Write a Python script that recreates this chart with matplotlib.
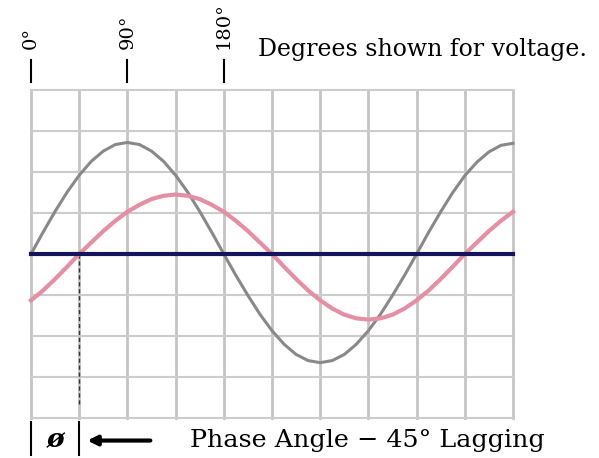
import matplotlib.pyplot as plt

# values, in grid units (one grid row = 1)
degrees = [0, 11.25, 22.5, 33.75, 45, 56.25, 67.5, 78.75, 90,
           101.25, 112.5, 123.75, 135, 146.25, 157.5, 168.75, 180,
           191.25, 202.5, 213.75, 225, 236.25, 247.5, 258.75, 270,
           281.25, 292.5, 303.75, 315, 326.25, 337.5, 348.75, 360,
           371.25, 382.5, 393.75, 405, 416.25, 427.5, 438.75, 450]
voltage = [0, 0.53, 1.04, 1.51, 1.92, 2.26, 2.51, 2.67, 2.72,
           2.67, 2.51, 2.26, 1.92, 1.51, 1.04, 0.53, 0,
           -0.52, -1.01, -1.47, -1.87, -2.20, -2.45, -2.60, -2.65,
           -2.60, -2.45, -2.20, -1.87, -1.47, -1.01, -0.52, 0,
           0.53, 1.03, 1.50, 1.91, 2.24, 2.49, 2.65, 2.70]
current = [-1.13, -0.89, -0.61, -0.31, 0, 0.28, 0.56, 0.81, 1.03,
           1.20, 1.34, 1.42, 1.45, 1.42, 1.34, 1.20, 1.03,
           0.81, 0.56, 0.28, 0, -0.31, -0.61, -0.89, -1.13,
           -1.33, -1.48, -1.57, -1.60, -1.57, -1.48, -1.33, -1.13,
           -0.89, -0.61, -0.31, 0, 0.28, 0.56, 0.81, 1.03]

grid_x = [0, 45, 90, 135, 180, 225, 270, 315, 360, 405, 450]
grid_y = [-4, -3, -2, -1, 0, 1, 2, 3, 4]
top_labels = ['0°', '90°', '180°']
top_pos = [0, 90, 180]
lag = 45

W, H = 599, 458
fig = plt.figure(figsize=(W / 100, H / 100), dpi=100)
ax = fig.add_axes([31 / W, 1 - 418 / H, (513 - 31) / W, (418 - 90) / H])
ax.set_xlim(0, 450)
ax.set_ylim(-4, 4)
ax.axis('off')

for gx in grid_x:
    ax.axvline(gx, color='#c4c4c4', lw=2, clip_on=False, zorder=1)
for gy in grid_y:
    ax.axhline(gy, color='#cccccc', lw=1.5, clip_on=False, zorder=1)

ax.plot(degrees, voltage, color='#898989', lw=2.2, clip_on=False, zorder=3)
ax.plot(degrees, current, color='#e68ea4', lw=3, clip_on=False, zorder=3)
ax.plot([0, 450], [0, 0], color='#14145a', lw=3, clip_on=False, zorder=4)

# dashed marker for the lag
ax.plot([lag, lag], [0, -3.7], color='#333333', lw=1, ls=(0, (3, 2)), zorder=2)

serif = 'DejaVu Serif'
for lab, pos in zip(top_labels, top_pos):
    ax.plot([pos, pos], [4.2, 4.73], color='black', lw=1.5, clip_on=False)
    ax.text(pos, 5.0, lab, rotation=90, ha='center', va='bottom',
            fontsize=14, family=serif)

ax.text(212, 4.98, 'Degrees shown for voltage.', ha='left', va='center',
        fontsize=17, family=serif)

# bottom annotation
for pos in [0, lag]:
    ax.plot([pos, pos], [-4.1, -4.9], color='black', lw=1.5, clip_on=False)
ax.text(lag / 2, -4.52, 'ø', ha='center', va='center', fontsize=19,
        family=serif, weight='bold', style='italic')
ax.annotate('', xy=(50, -4.55), xytext=(114, -4.55),
            arrowprops=dict(arrowstyle='-|>', color='black', lw=3,
                            mutation_scale=14), annotation_clip=False)
ax.text(148, -4.55, 'Phase Angle − 45° Lagging', ha='left', va='center',
        fontsize=18.3, family=serif)

fig.savefig('out.png', dpi=100)
